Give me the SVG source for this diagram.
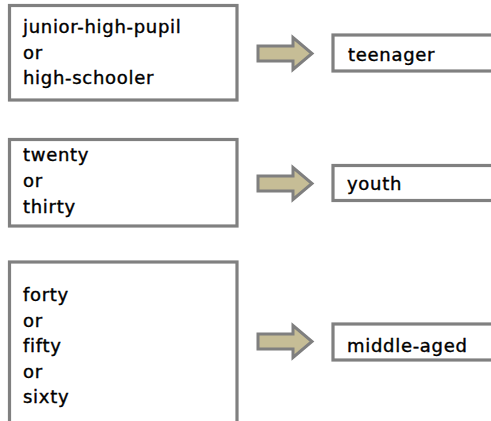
<svg xmlns="http://www.w3.org/2000/svg" width="491" height="421" viewBox="0 0 491 421">
<style>
.box{fill:#fff;stroke:#808080;stroke-width:3.2}
.t{font-family:"DejaVu Sans",Verdana,sans-serif;font-size:18px;letter-spacing:0.7px;fill:#000;stroke:#000;stroke-width:0.4}
.arr{fill:#c6bd96;stroke:#7f7f7f;stroke-width:3;stroke-linejoin:miter}
</style>
<rect width="491" height="421" fill="#fff"/>
<g id="src1">
<rect class="box" x="9.5" y="5.5" width="227.5" height="94.5"/>
<text class="t" x="23" y="33">junior-high-pupil</text>
<text class="t" x="23" y="59">or</text>
<text class="t" x="23" y="84">high-schooler</text>
</g>
<g id="src2">
<rect class="box" x="9.5" y="139.5" width="227.5" height="86.5"/>
<text class="t" x="23" y="161">twenty</text>
<text class="t" x="23" y="187">or</text>
<text class="t" x="23" y="213">thirty</text>
</g>
<g id="src3">
<rect class="box" x="9.5" y="262" width="227.5" height="180"/>
<text class="t" x="23" y="301">forty</text>
<text class="t" x="23" y="326.5">or</text>
<text class="t" x="23" y="352">fifty</text>
<text class="t" x="23" y="377.5">or</text>
<text class="t" x="23" y="403">sixty</text>
</g>
<g id="dst1">
<rect class="box" x="333" y="35" width="180" height="36"/>
<text class="t" x="348" y="61">teenager</text>
</g>
<g id="dst2">
<rect class="box" x="333" y="165.5" width="180" height="35"/>
<text class="t" x="347" y="189.5">youth</text>
</g>
<g id="dst3">
<rect class="box" x="333" y="324" width="180" height="36"/>
<text class="t" x="347" y="351.5">middle-aged</text>
</g>
<g id="connectors">
<path class="arr" d="M258,46 H293 V37.5 L312,53.5 L293,69.5 V61 H258 Z"/>
<path class="arr" d="M258,176 H293 V167.5 L312,183.5 L293,199.5 V191 H258 Z"/>
<path class="arr" d="M258,334 H293 V325.5 L312,341.5 L293,357.5 V349 H258 Z"/>
</g>
</svg>
